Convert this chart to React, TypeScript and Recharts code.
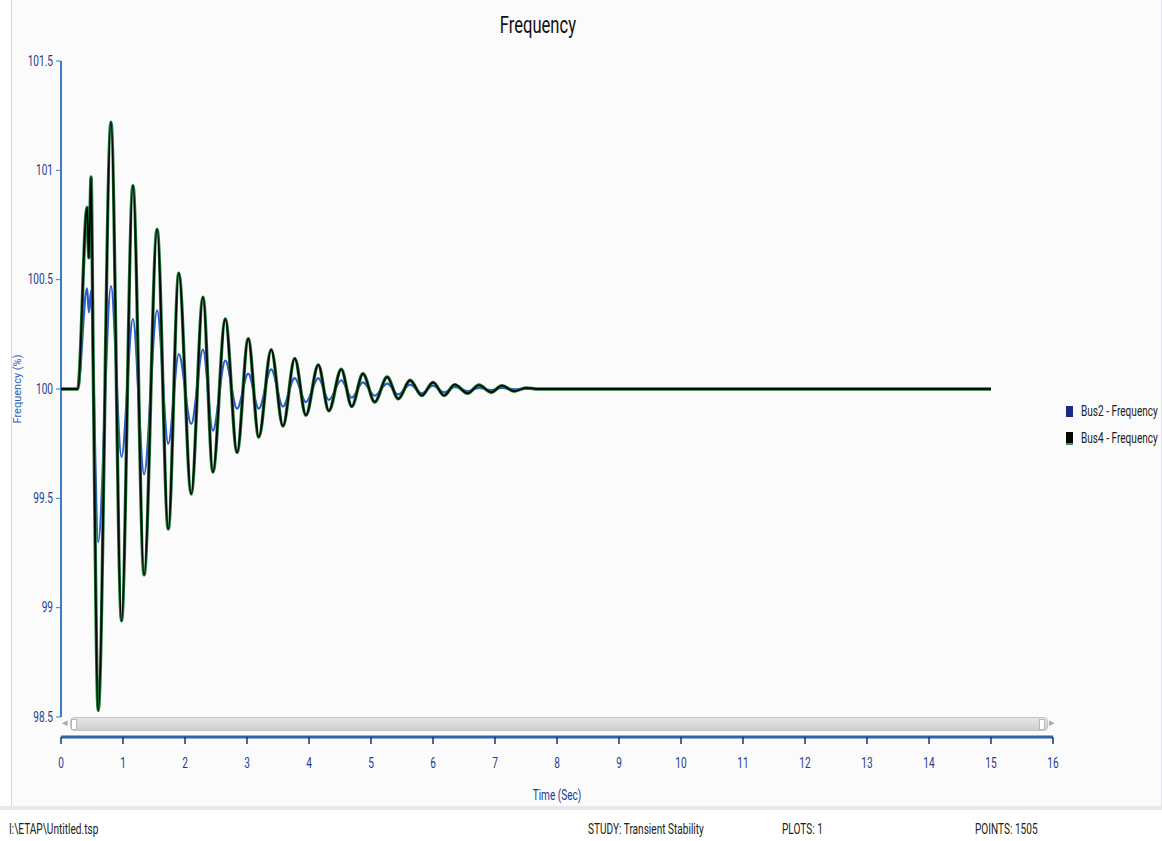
import { LineChart, Line, XAxis, YAxis, ReferenceLine } from 'recharts';

// values (extrema of the swing, in the same time base)
const time = [
  0, 0.27, 0.42, 0.45, 0.485, 0.52, 0.6, 0.806, 0.976, 1.16, 1.34, 1.55, 1.73, 1.9, 2.1, 2.29, 2.45,
  2.65, 2.84, 3.02, 3.19, 3.39, 3.58, 3.77, 3.95, 4.15, 4.32, 4.52, 4.69, 4.87, 5.06, 5.26, 5.44,
  5.63, 5.82, 6.0, 6.18, 6.35, 6.56, 6.74, 6.94, 7.11, 7.31, 7.5, 7.7, 15,
];
const bus2 = [
  100, 100, 100.46, 100.35, 100.45, 100.1, 99.3, 100.47, 99.69, 100.32, 99.61, 100.36, 99.75, 100.16,
  99.84, 100.18, 99.81, 100.13, 99.91, 100.07, 99.91, 100.09, 99.92, 100.05, 99.94, 100.05, 99.95,
  100.04, 99.96, 100.03, 99.97, 100.025, 99.975, 100.02, 99.98, 100.015, 99.985, 100.01, 99.99,
  100.005, 99.995, 100.005, 99.998, 100, 100, 100,
];
const bus4 = [
  100, 100, 100.83, 100.6, 100.97, 100.1, 98.53, 101.22, 98.94, 100.93, 99.15, 100.73, 99.36, 100.53,
  99.52, 100.42, 99.62, 100.32, 99.71, 100.23, 99.78, 100.18, 99.83, 100.14, 99.88, 100.11, 99.9,
  100.09, 99.92, 100.07, 99.94, 100.055, 99.955, 100.04, 99.97, 100.03, 99.97, 100.02, 99.98,
  100.018, 99.985, 100.015, 99.99, 100.005, 100, 100,
];
const xTicks = [0, 1, 2, 3, 4, 5, 6, 7, 8, 9, 10, 11, 12, 13, 14, 15, 16];
const yTicks = [98.5, 99, 99.5, 100, 100.5, 101, 101.5];
const seriesNames = ['Bus2 - Frequency', 'Bus4 - Frequency'];
const statusItems = ['I:\\ETAP\\Untitled.tsp', 'STUDY: Transient Stability', 'PLOTS: 1', 'POINTS: 1505'];

const data = time.map((t, i) => ({ t, bus2: bus2[i], bus4: bus4[i] }));

const FONT = "Roboto, 'Liberation Sans', sans-serif";
const AXIS_TEXT = '#1f3c8e';
const NARROW = 0.72;

// ETAP uses a condensed face; squeeze the text horizontally
function XTick({ x, y, payload }: any) {
  return (
    <g transform={`translate(${x},${y + 12}) scale(${NARROW},1)`}>
      <text textAnchor="middle" dominantBaseline="hanging" fill={AXIS_TEXT} fontSize={14} fontFamily={FONT}>
        {payload.value}
      </text>
    </g>
  );
}

function YTick({ x, y, payload }: any) {
  return (
    <g transform={`translate(${x},${y}) scale(${NARROW},1)`}>
      <text textAnchor="end" dominantBaseline="central" fill={AXIS_TEXT} fontSize={14} fontFamily={FONT}>
        {payload.value}
      </text>
    </g>
  );
}

const squeeze = { transform: `scaleX(${NARROW})`, transformOrigin: 'left center', whiteSpace: 'nowrap' as const };

export default function App() {
  return (
    <div style={{ position: 'absolute', left: 0, top: 0, width: 1162, height: 841, background: '#fff', fontFamily: FONT }}>
      {/* window frame */}
      <div style={{ position: 'absolute', left: 11, top: 0, width: 1149, height: 806, background: '#fbfbfc', borderLeft: '1px solid #d3d7e0', borderRight: '1px solid #e2e4ea' }} />
      <div style={{ position: 'absolute', left: 0, top: 806, width: 1162, height: 35, background: '#fff', borderTop: '4px solid #e6e8ec' }} />

      <div style={{ position: 'absolute', left: 0, width: 1076, top: 12, textAlign: 'center', fontSize: 23, color: '#111' }}>
        <span style={{ display: 'inline-block', transform: `scaleX(${NARROW})` }}>Frequency</span>
      </div>

      {/* scrollbar under the plot */}
      <div style={{ position: 'absolute', left: 70, top: 717, width: 976, height: 12, background: 'linear-gradient(#e4e4e4, #cfcfcf)', border: '1px solid #c4c4c4', borderRadius: 4 }} />
      <div style={{ position: 'absolute', left: 71, top: 719, width: 4, height: 9, background: '#fff', border: '1px solid #b8b8b8' }} />
      <div style={{ position: 'absolute', left: 1039, top: 719, width: 4, height: 9, background: '#fff', border: '1px solid #b8b8b8' }} />
      <div style={{ position: 'absolute', left: 62, top: 716, fontSize: 11, color: '#aaa' }}>◂</div>
      <div style={{ position: 'absolute', left: 1049, top: 716, fontSize: 11, color: '#aaa' }}>▸</div>

      <div style={{ position: 'absolute', left: 0, top: 0 }}>
        <LineChart width={1162} height={841} data={data} margin={{ top: 61, right: 109, bottom: 34, left: 0 }}>
          <XAxis
            dataKey="t"
            type="number"
            domain={[0, 16]}
            ticks={xTicks}
            interval={0}
            height={70}
            axisLine={{ stroke: '#2f62a6', strokeWidth: 3 }}
            tickLine={{ stroke: '#1c3470', strokeWidth: 1.5 }}
            tickSize={7}
            tick={<XTick />}
            label={({ viewBox }: any) => (
              <g transform={`translate(${viewBox.x + viewBox.width / 2},${viewBox.y + 58}) scale(${NARROW},1)`}>
                <text textAnchor="middle" dominantBaseline="central" fill={AXIS_TEXT} fontSize={14} fontFamily={FONT}>
                  Time (Sec)
                </text>
              </g>
            )}
          />
          <YAxis
            type="number"
            domain={[98.4085, 101.5]}
            allowDataOverflow
            ticks={yTicks}
            interval={0}
            width={61}
            axisLine={false}
            tickLine={{ stroke: '#3d7cc0' }}
            tickSize={5}
            tickMargin={3}
            tick={<YTick />}
            label={({ viewBox }: any) => (
              <text
                x={17}
                y={viewBox.y + (viewBox.height - 20) / 2}
                transform={`rotate(-90, 17, ${viewBox.y + (viewBox.height - 20) / 2})`}
                textAnchor="middle"
                dominantBaseline="central"
                fill="#2d5fb8"
                fontSize={11}
                fontFamily={FONT}
              >
                Frequency (%)
              </text>
            )}
          />
          <ReferenceLine segment={[{ x: 0, y: 98.5 }, { x: 0, y: 101.5 }]} stroke="#3d7cc0" strokeWidth={2} />
          <Line type="monotone" dataKey="bus2" name={seriesNames[0]} stroke="#2a5ccc" strokeWidth={2.2} dot={false} isAnimationActive={false} />
          <Line type="monotone" dataKey="bus4" stroke="#1f7a3c" strokeWidth={3.4} dot={false} isAnimationActive={false} legendType="none" />
          <Line type="monotone" dataKey="bus4" name={seriesNames[1]} stroke="#050805" strokeWidth={1.8} dot={false} isAnimationActive={false} />
        </LineChart>
      </div>

      {/* legend */}
      {seriesNames.map((name, i) => (
        <div key={name} style={{ position: 'absolute', left: 1066, top: 403 + i * 27, display: 'flex', alignItems: 'center', fontSize: 14, color: '#222', whiteSpace: 'nowrap' }}>
          <span style={{ width: 7, height: 11, marginRight: 8, background: i === 0 ? '#1b2a86' : '#050805', borderBottom: i === 1 ? '2px solid #2f9a55' : 'none' }} />
          <span style={squeeze}>{name}</span>
        </div>
      ))}

      {/* status bar */}
      {statusItems.map((s, i) => (
        <div key={s} style={{ position: 'absolute', left: [9, 588, 782, 975][i], top: 821, fontSize: 14, color: '#222', ...squeeze }}>
          {s}
        </div>
      ))}
    </div>
  );
}
